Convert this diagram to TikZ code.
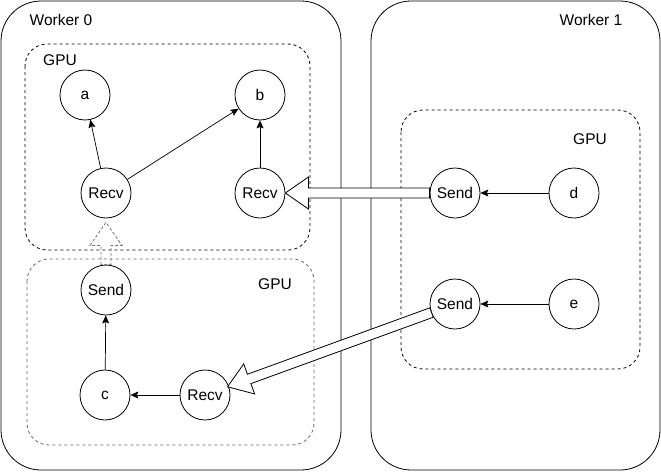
\documentclass[tikz,border=0pt]{standalone}
\usepackage{fontspec}
\setmainfont{Liberation Sans}
\usetikzlibrary{calc,arrows.meta}
\newcommand{\flexarrow}[3][]{%
  \coordinate (faC) at ($(#3)!23pt!(#2)$);
  \draw[flexstyle,#1] ($(#2)!5pt!90:(#3)$)
    -- ($(faC)!5pt!90:(#3)$)
    -- ($(faC)!16pt!90:(#3)$)
    -- (#3)
    -- ($(faC)!16pt!-90:(#3)$)
    -- ($(faC)!5pt!-90:(#3)$)
    -- ($(#2)!5pt!-90:(#3)$) -- cycle;}
\begin{document}
\begin{tikzpicture}[x=1pt,y=-1pt,
  every node/.style={font=\fontsize{15.5}{18}\selectfont},
  worker/.style={draw=black,line width=0.8pt,rounded corners=40pt},
  gpubox/.style={draw=black,line width=0.8pt,dash pattern=on 3pt off 3pt,rounded corners=22pt},
  op/.style={circle,draw=black,line width=0.8pt,minimum size=50pt,inner sep=0pt},
  lbl/.style={inner sep=0pt},
  edge/.style={draw=black,line width=0.7pt,-{Stealth[length=8pt,width=7pt,inset=1.5pt]}},
  flexstyle/.style={draw=black,fill=white,line width=0.8pt,line join=miter}
]
\useasboundingbox (0,0) rectangle (661,471);
% workers
\draw[worker] (1,1) rectangle (341,470);
\draw[worker] (371,1) rectangle (660,470);
\node[lbl] (w0) at (61,20) {Worker 0};
\node[lbl] (w1) at (591,20) {Worker 1};
% gpu boxes
\draw[gpubox] (25,44) rectangle (310,250);
\draw[gpubox,draw=black!60] (27,259) rectangle (314,445);
\draw[gpubox] (401,110) rectangle (640,369);
\node[lbl] (g1) at (60,60) {GPU};
\node[lbl] (g2) at (275,284) {GPU};
\node[lbl] (g3) at (590,139) {GPU};
% ops
\node[op] (a) at (85,95) {a};
\node[op] (b) at (260,95) {b};
\node[op] (recv1) at (106,193) {Recv};
\node[op] (recv2) at (260,193) {Recv};
\node[op] (send1) at (106,290) {Send};
\node[op] (c) at (105,395) {c};
\node[op] (recv3) at (205,395) {Recv};
\node[op] (sendd) at (455,193) {Send};
\node[op] (d) at (574,193) {d};
\node[op] (sende) at (455,304) {Send};
\node[op] (e) at (574,304) {e};
% edges
\draw[edge] (recv1) -- (a);
\draw[edge] (recv1) -- (b);
\draw[edge] (recv2) -- (b);
\draw[edge] (d) -- (sendd);
\draw[edge] (e) -- (sende);
\draw[edge] (c) -- (send1);
\draw[edge] (recv3) -- (c);
% transfers
\flexarrow{sendd.west}{recv2.east}
\coordinate (s3) at ($(sende)!25pt!(recv3)$);
\coordinate (t3) at ($(recv3)!24pt!(sende)$);
\flexarrow{s3}{t3}
\coordinate (t1) at ($(recv1.south)+(0,4)$);
\flexarrow[draw=black!55,dash pattern=on 3pt off 2pt,fill=none]{send1.north}{t1}
\end{tikzpicture}
\end{document}
